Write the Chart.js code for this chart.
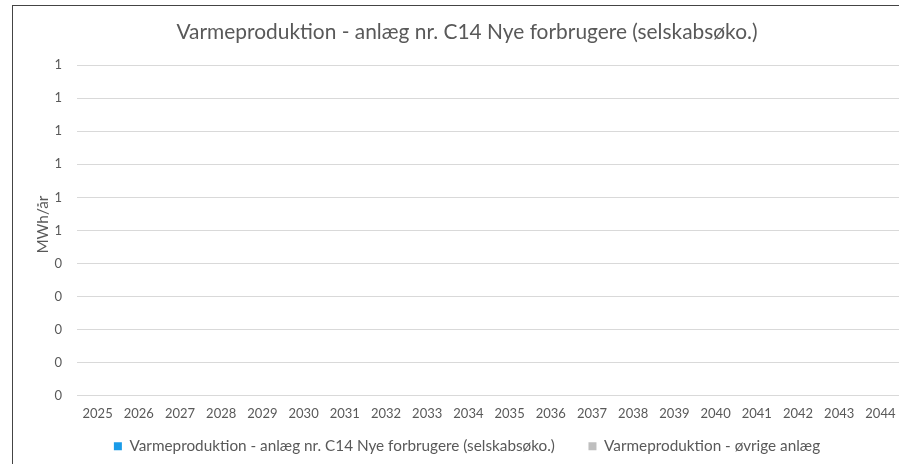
<!DOCTYPE html>
<html lang="da">
<head>
  <meta charset="UTF-8" />
  <title>Varmeproduktion</title>
  <script src="https://cdn.jsdelivr.net/npm/chart.js"></script>
  <style>
    html, body {
      margin: 0;
      padding: 0;
      background: #fff;
      overflow: hidden;
      width: 899px;
      height: 464px;
    }
    .ramme {
      position: absolute;
      left: 12px;
      top: 5px;
      width: 914px;
      height: 480px;
      border: 1px solid #444;
      box-sizing: border-box;
    }
    .graf {
      position: absolute;
      left: 0;
      top: 0;
      width: 930px;
      height: 464px;
    }
  </style>
</head>
<body>
  <div class="ramme"></div>
  <div class="graf"><canvas id="graf"></canvas></div>

  <script>
    const aar = ['2025','2026','2027','2028','2029','2030','2031','2032','2033','2034',
                 '2035','2036','2037','2038','2039','2040','2041','2042','2043','2044'];
    // ingen produktion i perioden
    const nyeForbrugere = [0,0,0,0,0,0,0,0,0,0,0,0,0,0,0,0,0,0,0,0];
    const oevrigeAnlaeg = [0,0,0,0,0,0,0,0,0,0,0,0,0,0,0,0,0,0,0,0];

    const font = 'Lato, Carlito, Calibri, sans-serif';
    const graa = '#595959';

    new Chart(document.getElementById('graf'), {
      type: 'bar',
      data: {
        labels: aar,
        datasets: [
          { label: 'Varmeproduktion - anlæg nr. C14 Nye forbrugere (selskabsøko.)', data: nyeForbrugere, backgroundColor: '#1a9be8' },
          { label: 'Varmeproduktion - øvrige anlæg', data: oevrigeAnlaeg, backgroundColor: '#bfbfbf' }
        ]
      },
      options: {
        responsive: true,
        maintainAspectRatio: false,
        animation: false,
        layout: { padding: { top: 20, bottom: 0, left: 33, right: 29 } },
        plugins: {
          tooltip: { enabled: false },
          title: {
            display: true,
            text: 'Varmeproduktion - anlæg nr. C14 Nye forbrugere (selskabsøko.)',
            color: graa,
            font: { family: font, size: 20.9, weight: 'normal' },
            padding: { top: 0, bottom: 20 }
          },
          legend: {
            position: 'bottom',
            labels: {
              color: graa,
              font: { family: font, size: 15.3 },
              boxWidth: 8,
              boxHeight: 8,
              padding: 14.4,
              // lidt ekstra luft mellem de to forklaringer
              generateLabels: chart => {
                const items = Chart.defaults.plugins.legend.labels.generateLabels(chart);
                items[0].text += '\u2003\u2002';
                return items;
              }
            }
          }
        },
        scales: {
          x: {
            stacked: true,
            grid: { display: false },
            border: { display: false },
            ticks: { color: graa, font: { family: font, size: 13 }, maxRotation: 0, autoSkip: false, padding: 2.5 }
          },
          y: {
            stacked: true,
            min: 0,
            max: 1,
            grid: { color: '#d9d9d9', drawTicks: false },
            border: { display: false },
            ticks: {
              stepSize: 0.1,
              color: graa,
              font: { family: font, size: 13 },
              padding: 15,
              callback: v => Math.round(v).toString()
            },
            title: {
              display: true,
              text: '\u2002 MWh/år',
              color: graa,
              font: { family: font, size: 15.3 },
              padding: { top: 1, bottom: 0 }
            },
            afterFit: s => { s.width = 44; }
          }
        }
      }
    });
  </script>
</body>
</html>
